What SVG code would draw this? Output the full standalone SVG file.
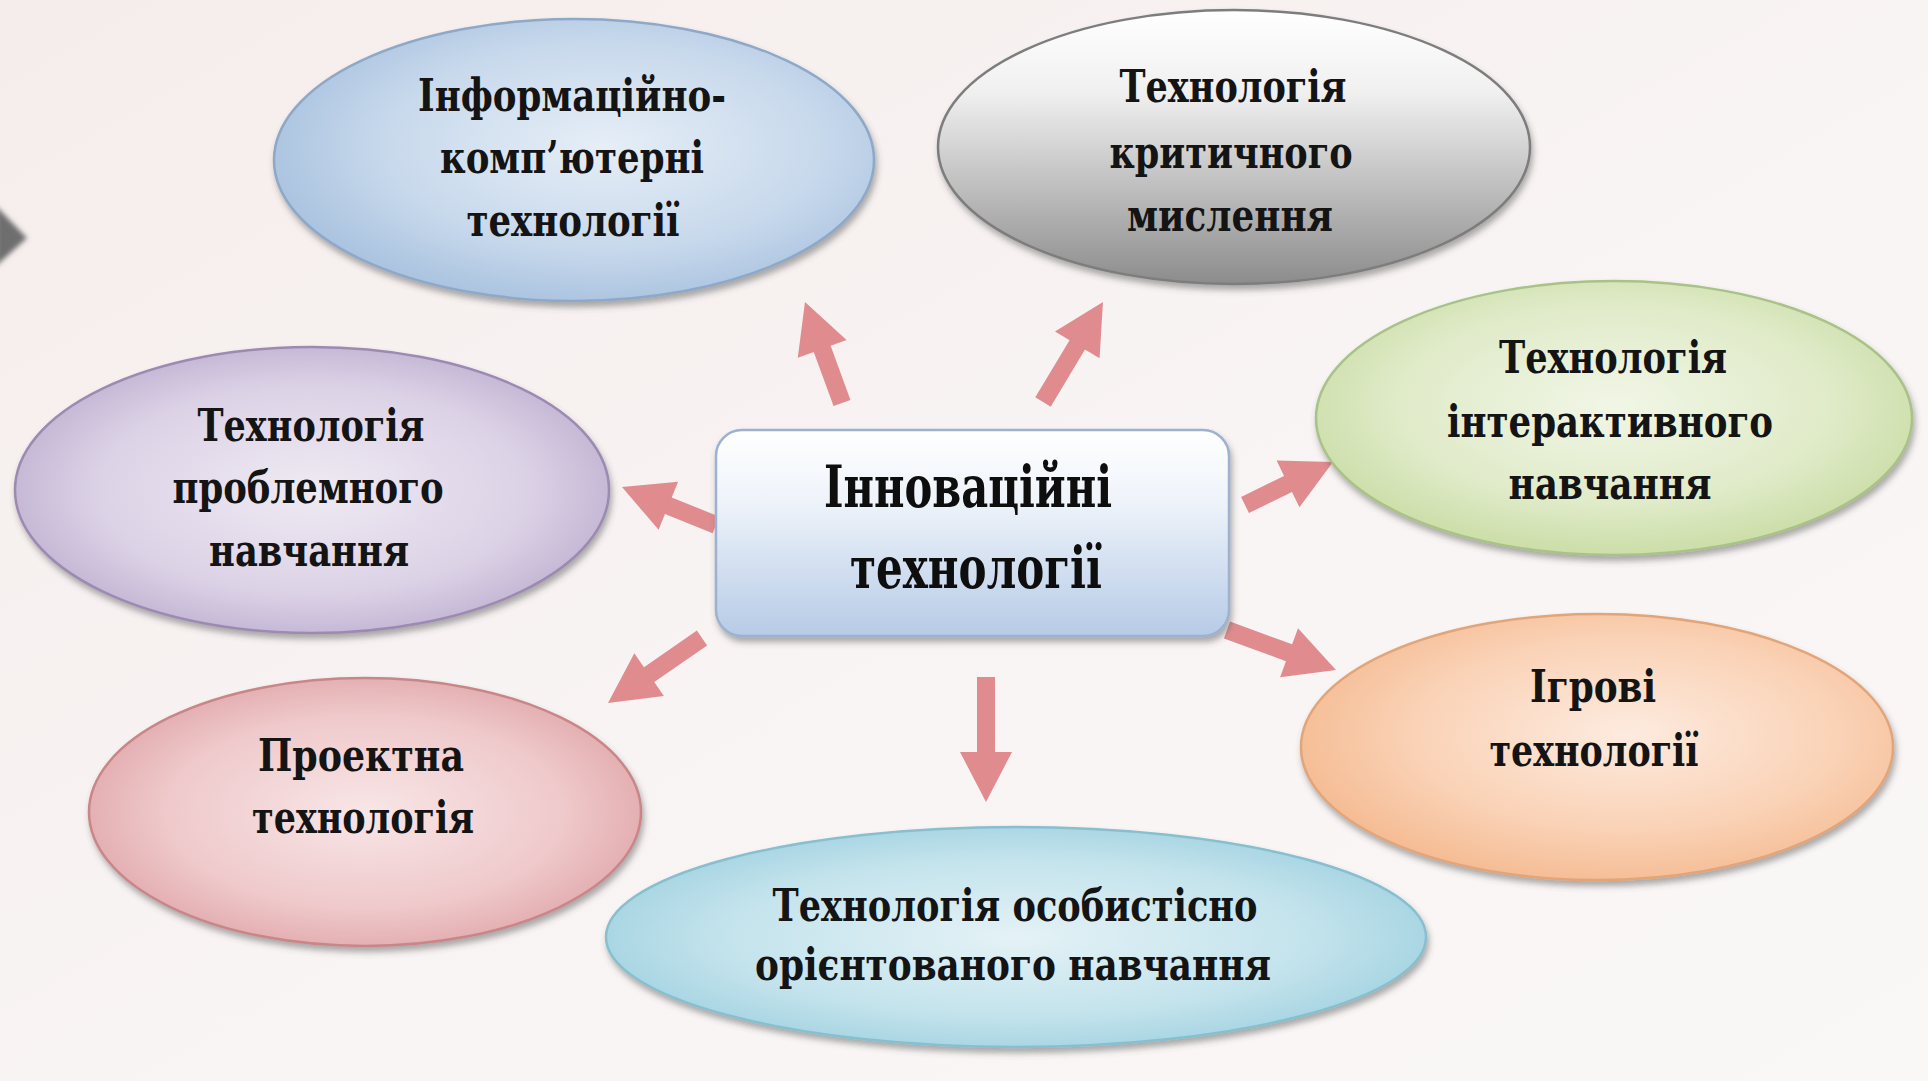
<svg xmlns="http://www.w3.org/2000/svg" width="1928" height="1081" viewBox="0 0 1928 1081">
<style>
.lbl{font-family:'DejaVu Serif Condensed','DejaVu Serif','Liberation Serif',serif;font-stretch:condensed;font-weight:bold;font-size:44px;fill:#141414;text-anchor:middle}
.ctr{font-family:'DejaVu Serif Condensed','DejaVu Serif','Liberation Serif',serif;font-stretch:condensed;font-weight:900;font-size:57px;fill:#0e0e0e;text-anchor:middle}
.arr{fill:#e08c8f}
.el{stroke-width:2.5}
</style>
<defs>
<linearGradient id="bg" x1="0" y1="0" x2="1" y2="1">
<stop offset="0" stop-color="#f5edec"/>
<stop offset="0.5" stop-color="#f8f4f3"/>
<stop offset="1" stop-color="#faf7f7"/>
</linearGradient>
<filter id="sh" x="-10%" y="-10%" width="120%" height="130%">
<feDropShadow dx="2" dy="5" stdDeviation="3" flood-color="#4a4a4a" flood-opacity="0.45"/>
</filter>
<filter id="soft" x="-50%" y="-50%" width="200%" height="200%">
<feGaussianBlur stdDeviation="2.5"/>
</filter>
<radialGradient id="gBlue" cx="0.55" cy="0.45" r="0.6">
<stop offset="0" stop-color="#e6eef7"/>
<stop offset="0.6" stop-color="#c8d9ec"/>
<stop offset="1" stop-color="#a6c0de"/>
</radialGradient>
<linearGradient id="gGray" x1="0" y1="0" x2="0" y2="1">
<stop offset="0" stop-color="#ffffff"/>
<stop offset="0.3" stop-color="#f0f0f0"/>
<stop offset="1" stop-color="#8c8c8c"/>
</linearGradient>
<radialGradient id="gGreen" cx="0.5" cy="0.45" r="0.6">
<stop offset="0" stop-color="#f1f6e6"/>
<stop offset="0.6" stop-color="#e0ebc9"/>
<stop offset="1" stop-color="#c6da9f"/>
</radialGradient>
<radialGradient id="gPurple" cx="0.5" cy="0.5" r="0.6">
<stop offset="0" stop-color="#efeaf3"/>
<stop offset="0.6" stop-color="#dcd2e6"/>
<stop offset="1" stop-color="#b7a7cb"/>
</radialGradient>
<radialGradient id="gPink" cx="0.5" cy="0.5" r="0.6">
<stop offset="0" stop-color="#f8e6e7"/>
<stop offset="0.6" stop-color="#efc9cb"/>
<stop offset="1" stop-color="#dc9ea1"/>
</radialGradient>
<radialGradient id="gOrange" cx="0.55" cy="0.45" r="0.6">
<stop offset="0" stop-color="#fdebdf"/>
<stop offset="0.6" stop-color="#fad2b6"/>
<stop offset="1" stop-color="#f4b98f"/>
</radialGradient>
<radialGradient id="gCyan" cx="0.5" cy="0.5" r="0.6">
<stop offset="0" stop-color="#e4f2f6"/>
<stop offset="0.6" stop-color="#c3e3ec"/>
<stop offset="1" stop-color="#98cddd"/>
</radialGradient>
<linearGradient id="gCtr" x1="0" y1="0" x2="0" y2="1">
<stop offset="0" stop-color="#ffffff"/>
<stop offset="0.35" stop-color="#eef3fa"/>
<stop offset="1" stop-color="#b6cbe6"/>
</linearGradient>
</defs>
<rect x="0" y="0" width="1928" height="1081" fill="url(#bg)"/>
<polygon points="-4,206 27,238 -4,266" fill="#6e6e6e" filter="url(#soft)"/>

<g id="connectors">
<polygon class="arr" transform="translate(842,403) rotate(-110.12)" points="0,-9 57.6,-9 57.6,-26 107.6,0 57.6,26 57.6,9 0,9"/>
<polygon class="arr" transform="translate(1043,402) rotate(-59.04)" points="0,-9 66.6,-9 66.6,-26 116.6,0 66.6,26 66.6,9 0,9"/>
<polygon class="arr" transform="translate(716,525) rotate(-158.0)" points="0,-9 51.4,-9 51.4,-26 101.4,0 51.4,26 51.4,9 0,9"/>
<polygon class="arr" transform="translate(1245,505) rotate(-26.04)" points="0,-9 47.9,-9 47.9,-26 97.9,0 47.9,26 47.9,9 0,9"/>
<polygon class="arr" transform="translate(1227,630) rotate(20.15)" points="0,-9 66.1,-9 66.1,-26 116.1,0 66.1,26 66.1,9 0,9"/>
<polygon class="arr" transform="translate(986,677) rotate(90)" points="0,-9 75,-9 75,-26 125,0 75,26 75,9 0,9"/>
<polygon class="arr" transform="translate(702,638) rotate(145.34)" points="0,-9 64.3,-9 64.3,-26 114.3,0 64.3,26 64.3,9 0,9"/>
</g>

<g id="node-ikt">
<ellipse class="el" cx="574" cy="160" rx="300" ry="141" fill="url(#gBlue)" stroke="#8ea8c8" filter="url(#sh)"/>
<text class="lbl" x="572" y="111" textLength="308" lengthAdjust="spacingAndGlyphs">Інформаційно-</text>
<text class="lbl" x="572" y="173" textLength="264" lengthAdjust="spacingAndGlyphs">комп’ютерні</text>
<text class="lbl" x="573" y="236" textLength="213" lengthAdjust="spacingAndGlyphs">технології</text>
</g>

<g id="node-critical">
<ellipse class="el" cx="1234" cy="147" rx="296" ry="137" fill="url(#gGray)" stroke="#7d7d7d" filter="url(#sh)"/>
<text class="lbl" x="1233" y="102" textLength="227" lengthAdjust="spacingAndGlyphs">Технологія</text>
<text class="lbl" x="1231" y="168" textLength="243" lengthAdjust="spacingAndGlyphs">критичного</text>
<text class="lbl" x="1230" y="231" textLength="206" lengthAdjust="spacingAndGlyphs">мислення</text>
</g>

<g id="node-interactive">
<ellipse class="el" cx="1614" cy="418" rx="298" ry="137" fill="url(#gGreen)" stroke="#a9c287" filter="url(#sh)"/>
<text class="lbl" x="1613" y="373" textLength="228" lengthAdjust="spacingAndGlyphs">Технологія</text>
<text class="lbl" x="1610" y="437" textLength="326" lengthAdjust="spacingAndGlyphs">інтерактивного</text>
<text class="lbl" x="1610" y="499" textLength="203" lengthAdjust="spacingAndGlyphs">навчання</text>
</g>

<g id="node-problem">
<ellipse class="el" cx="312" cy="490" rx="297" ry="143" fill="url(#gPurple)" stroke="#9c8ab3" filter="url(#sh)"/>
<text class="lbl" x="311" y="441" textLength="227" lengthAdjust="spacingAndGlyphs">Технологія</text>
<text class="lbl" x="308" y="503" textLength="271" lengthAdjust="spacingAndGlyphs">проблемного</text>
<text class="lbl" x="309" y="566" textLength="200" lengthAdjust="spacingAndGlyphs">навчання</text>
</g>

<g id="node-project">
<ellipse class="el" cx="365" cy="812" rx="276" ry="134" fill="url(#gPink)" stroke="#c98689" filter="url(#sh)"/>
<text class="lbl" x="361" y="771" textLength="206" lengthAdjust="spacingAndGlyphs">Проектна</text>
<text class="lbl" x="363" y="833" textLength="222" lengthAdjust="spacingAndGlyphs">технологія</text>
</g>

<g id="node-game">
<ellipse class="el" cx="1597" cy="747" rx="296" ry="133" fill="url(#gOrange)" stroke="#e2a57a" filter="url(#sh)"/>
<text class="lbl" x="1593" y="702" textLength="126" lengthAdjust="spacingAndGlyphs">Ігрові</text>
<text class="lbl" x="1594" y="766" textLength="209" lengthAdjust="spacingAndGlyphs">технології</text>
</g>

<g id="node-personal">
<ellipse class="el" cx="1016" cy="937" rx="410" ry="110" fill="url(#gCyan)" stroke="#88bfcf" filter="url(#sh)"/>
<text class="lbl" x="1015" y="921" textLength="485" lengthAdjust="spacingAndGlyphs">Технологія особистісно</text>
<text class="lbl" x="1013" y="980" textLength="516" lengthAdjust="spacingAndGlyphs">орієнтованого навчання</text>
</g>

<g id="node-center">
<rect x="716" y="430" width="513" height="206" rx="26" ry="26" fill="url(#gCtr)" stroke="#9db2cf" stroke-width="2.5" filter="url(#sh)"/>
<text class="ctr" x="968" y="507" textLength="288" lengthAdjust="spacingAndGlyphs">Інноваційні</text>
<text class="ctr" x="976" y="588" textLength="252" lengthAdjust="spacingAndGlyphs">технології</text>
</g>
</svg>
